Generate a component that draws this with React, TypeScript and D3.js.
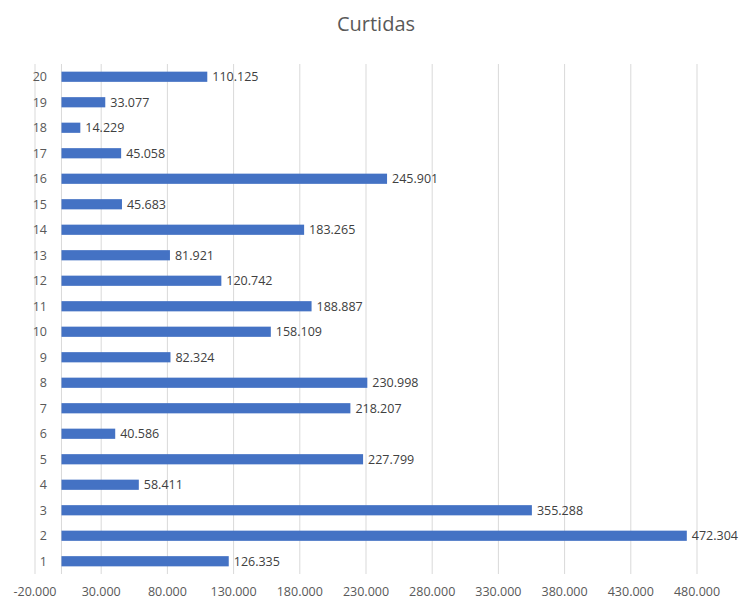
import React from "react";
import * as d3 from "d3";

const categories = ["1","2","3","4","5","6","7","8","9","10","11","12","13","14","15","16","17","18","19","20"];
const values = [126.335,472.304,355.288,58.411,227.799,40.586,218.207,230.998,82.324,158.109,188.887,120.742,81.921,183.265,45.683,245.901,45.058,14.229,33.077,110.125];
const xTicks = [-20,30,80,130,180,230,280,330,380,430,480];
const title = "Curtidas";

const fmt = (v: number) => v.toFixed(3);

export default function App() {
  const W = 749, H = 604;
  const x = d3.scaleLinear().domain([-20, 480]).range([35, 697]);
  const y = d3.scaleBand<string>().domain([...categories].reverse()).range([64, 574]).paddingInner(0.6).paddingOuter(0.3);
  const font = "'Segoe UI', 'Open Sans', 'Noto Sans', sans-serif";
  return (
    <svg width={W} height={H} style={{ position: "absolute", left: 0, top: 0, background: "#fff" }} fontFamily={font}>
      <text x={376} y={31} textAnchor="middle" fontSize={20} fill="#595959">{title}</text>
      {xTicks.map(t => (
        <line key={"g"+t} x1={x(t)} x2={x(t)} y1={64} y2={574} stroke="#d9d9d9" strokeWidth={1} />
      ))}
      <line x1={x(0)} x2={x(0)} y1={64} y2={574} stroke="#d9d9d9" strokeWidth={1} />
      {xTicks.map(t => (
        <text key={"t"+t} x={x(t)} y={596} textAnchor="middle" fontSize={12.5} fill="#595959">{fmt(t)}</text>
      ))}
      {categories.map((c, i) => (
        <g key={c}>
          <rect x={x(0)} y={y(c)} width={x(values[i]) - x(0)} height={y.bandwidth()} fill="#4472C4" />
          <text x={x(values[i]) + 5} y={(y(c) as number) + y.bandwidth() / 2} dy="0.35em" fontSize={12.5} fill="#404040">{fmt(values[i])}</text>
          <text x={47} y={(y(c) as number) + y.bandwidth() / 2} dy="0.35em" textAnchor="end" fontSize={12.5} fill="#595959">{c}</text>
        </g>
      ))}
    </svg>
  );
}
